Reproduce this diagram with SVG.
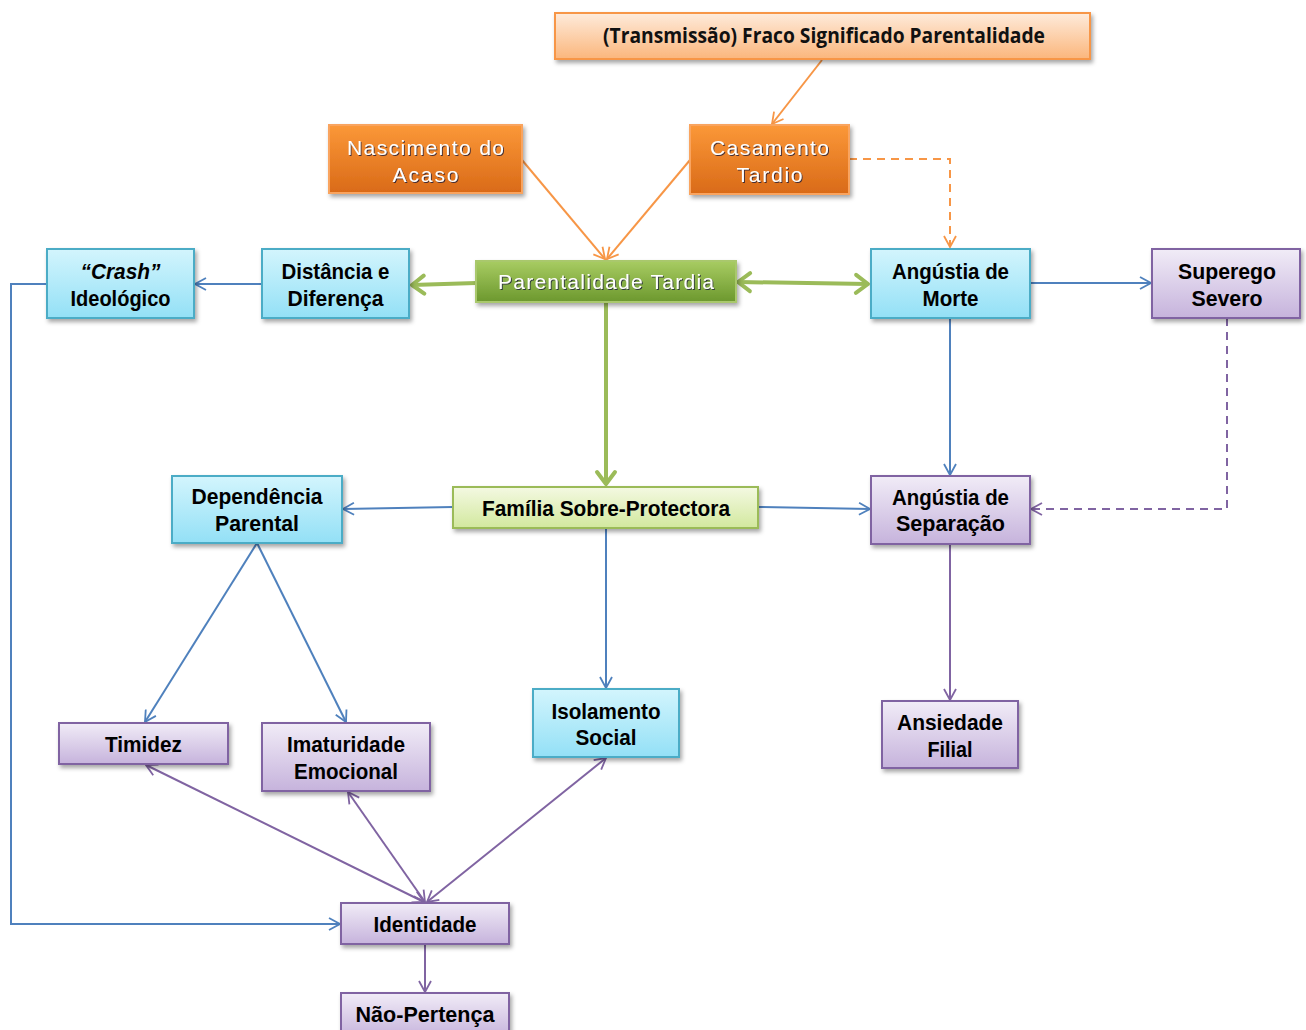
<svg xmlns="http://www.w3.org/2000/svg" width="1306" height="1030" viewBox="0 0 1306 1030">
<defs>
<linearGradient id="gBlue" x1="0" y1="0" x2="0" y2="1"><stop offset="0" stop-color="#d3f5fd"/><stop offset="1" stop-color="#93e0f6"/></linearGradient>
<linearGradient id="gPurple" x1="0" y1="0" x2="0" y2="1"><stop offset="0" stop-color="#f1ecf7"/><stop offset="1" stop-color="#c6b3dc"/></linearGradient>
<linearGradient id="gOrange" x1="0" y1="0" x2="0" y2="1"><stop offset="0" stop-color="#fb9838"/><stop offset="1" stop-color="#d96a18"/></linearGradient>
<linearGradient id="gPeach" x1="0" y1="0" x2="0" y2="1"><stop offset="0" stop-color="#feebdb"/><stop offset="1" stop-color="#fbb67c"/></linearGradient>
<linearGradient id="gGreen" x1="0" y1="0" x2="0" y2="1"><stop offset="0" stop-color="#a8cc62"/><stop offset="1" stop-color="#6c982e"/></linearGradient>
<linearGradient id="gLGreen" x1="0" y1="0" x2="0" y2="1"><stop offset="0" stop-color="#f4f9e2"/><stop offset="1" stop-color="#d2e89e"/></linearGradient>
<filter id="sh" x="-10%" y="-20%" width="130%" height="160%"><feDropShadow dx="2" dy="3" stdDeviation="2" flood-color="#000" flood-opacity="0.35"/></filter>
<filter id="tsh" x="-10%" y="-30%" width="120%" height="160%"><feDropShadow dx="1" dy="1" stdDeviation="0.6" flood-color="#1a1a3a" flood-opacity="0.8"/></filter>
<marker id="aBlue" viewBox="-1 -1 13 14" refX="11" refY="6" markerWidth="13" markerHeight="14" markerUnits="userSpaceOnUse" orient="auto-start-reverse"><path d="M0,0 L11,6 L0,12" fill="none" stroke="#4f81bd" stroke-width="1.8"/></marker>
<marker id="aPurple" viewBox="-1 -1 13 14" refX="11" refY="6" markerWidth="13" markerHeight="14" markerUnits="userSpaceOnUse" orient="auto-start-reverse"><path d="M0,0 L11,6 L0,12" fill="none" stroke="#8064a2" stroke-width="1.8"/></marker>
<marker id="aOrange" viewBox="-1 -1 13 14" refX="11" refY="6" markerWidth="13" markerHeight="14" markerUnits="userSpaceOnUse" orient="auto-start-reverse"><path d="M0,0 L11,6 L0,12" fill="none" stroke="#f79646" stroke-width="1.8"/></marker>
<marker id="aGreen" viewBox="-3 -3 18 24" refX="12" refY="9" markerWidth="18" markerHeight="24" markerUnits="userSpaceOnUse" orient="auto-start-reverse"><path d="M0,0 L12,9 L0,18" fill="none" stroke="#9bbb59" stroke-width="4" stroke-linecap="round" stroke-linejoin="round"/></marker>
</defs>
<style>
.box{filter:url(#sh);stroke-width:2}
.blue{fill:url(#gBlue);stroke:#4bacc6}
.purple{fill:url(#gPurple);stroke:#8064a2}
.orange{fill:url(#gOrange);stroke:#f9a45e}
.peach{fill:url(#gPeach);stroke:#f79646}
.green{fill:url(#gGreen);stroke:#a9c86c}
.lgreen{fill:url(#gLGreen);stroke:#9bbb59}
.t{font-family:"Liberation Sans",Arial,sans-serif;font-weight:bold;font-size:22px;fill:#000;text-anchor:middle}
.w{font-family:"Liberation Sans",Arial,sans-serif;font-size:21px;fill:#fff;text-anchor:middle;filter:url(#tsh)}
.c{font-family:"Open Sans","Noto Sans",sans-serif;font-weight:bold;font-size:21px;fill:#111;text-anchor:middle}
.lb{fill:none;stroke:#4f81bd;stroke-width:2}
.lp{fill:none;stroke:#8064a2;stroke-width:2}
.lo{fill:none;stroke:#f79646;stroke-width:2}
.lg{fill:none;stroke:#9bbb59;stroke-width:4}
.dash{stroke-dasharray:8 6}
</style>
<g id="connectors">
<line class="lo" x1="822" y1="60" x2="772" y2="124" marker-end="url(#aOrange)"/>
<line class="lo" x1="522" y1="160" x2="605" y2="259" marker-end="url(#aOrange)"/>
<line class="lo" x1="690" y1="160" x2="607" y2="259" marker-end="url(#aOrange)"/>
<path class="lo dash" d="M849,159 H950 V247" marker-end="url(#aOrange)"/>
<line class="lg" x1="476" y1="283" x2="412" y2="285" marker-end="url(#aGreen)"/>
<line class="lg" x1="738" y1="282" x2="868" y2="284" marker-start="url(#aGreen)" marker-end="url(#aGreen)"/>
<line class="lg" x1="606" y1="302" x2="606" y2="484" marker-end="url(#aGreen)"/>
<line class="lb" x1="262" y1="284" x2="195" y2="284" marker-end="url(#aBlue)"/>
<path class="lb" d="M47,284 H11 V924 H340" marker-end="url(#aBlue)"/>
<line class="lb" x1="1030" y1="283" x2="1151" y2="283" marker-end="url(#aBlue)"/>
<line class="lb" x1="950" y1="318" x2="950" y2="475" marker-end="url(#aBlue)"/>
<path class="lp dash" d="M1227,318 V509 H1031" marker-end="url(#aPurple)"/>
<line class="lb" x1="453" y1="507" x2="343" y2="509" marker-end="url(#aBlue)"/>
<line class="lb" x1="758" y1="507" x2="870" y2="509" marker-end="url(#aBlue)"/>
<line class="lb" x1="606" y1="528" x2="606" y2="688" marker-end="url(#aBlue)"/>
<line class="lb" x1="257" y1="543" x2="145" y2="722" marker-end="url(#aBlue)"/>
<line class="lb" x1="257" y1="543" x2="346" y2="722" marker-end="url(#aBlue)"/>
<line class="lp" x1="950" y1="544" x2="950" y2="700" marker-end="url(#aPurple)"/>
<line class="lp" x1="146" y1="765" x2="424" y2="902" marker-start="url(#aPurple)" marker-end="url(#aPurple)"/>
<line class="lp" x1="348" y1="792" x2="425" y2="902" marker-start="url(#aPurple)" marker-end="url(#aPurple)"/>
<line class="lp" x1="606" y1="758" x2="427" y2="902" marker-start="url(#aPurple)" marker-end="url(#aPurple)"/>
<line class="lp" x1="425" y1="944" x2="425" y2="992" marker-end="url(#aPurple)"/>
</g>
<g id="n-transmissao"><rect class="box peach" x="555" y="13" width="535" height="46"/><text class="c" x="824" y="43" textLength="442" lengthAdjust="spacingAndGlyphs">(Transmissão) Fraco Significado Parentalidade</text></g>
<g id="n-nascimento"><rect class="box orange" x="329" y="125" width="193" height="68"/><text class="w" x="425.5" y="155" textLength="157">Nascimento do</text><text class="w" x="425.5" y="182" textLength="66">Acaso</text></g>
<g id="n-casamento"><rect class="box orange" x="690" y="125" width="159" height="69"/><text class="w" x="769.5" y="155" textLength="119">Casamento</text><text class="w" x="769.5" y="182" textLength="66">Tardio</text></g>
<g id="n-parentalidade"><rect class="box green" x="476" y="261" width="260" height="41"/><text class="w" x="606" y="289" textLength="216">Parentalidade Tardia</text></g>
<g id="n-crash"><rect class="box blue" x="47" y="249" width="147" height="69"/><text class="t" x="120.5" y="279" font-style="italic" textLength="80" lengthAdjust="spacingAndGlyphs">“Crash”</text><text class="t" x="120.5" y="306" textLength="100" lengthAdjust="spacingAndGlyphs">Ideológico</text></g>
<g id="n-distancia"><rect class="box blue" x="262" y="249" width="147" height="69"/><text class="t" x="335.5" y="279" textLength="108" lengthAdjust="spacingAndGlyphs">Distância e</text><text class="t" x="335.5" y="306" textLength="96" lengthAdjust="spacingAndGlyphs">Diferença</text></g>
<g id="n-morte"><rect class="box blue" x="871" y="249" width="159" height="69"/><text class="t" x="950.5" y="279" textLength="117" lengthAdjust="spacingAndGlyphs">Angústia de</text><text class="t" x="950.5" y="306" textLength="56" lengthAdjust="spacingAndGlyphs">Morte</text></g>
<g id="n-superego"><rect class="box purple" x="1152" y="249" width="148" height="69"/><text class="t" x="1227" y="279" textLength="98" lengthAdjust="spacingAndGlyphs">Superego</text><text class="t" x="1227" y="306" textLength="71" lengthAdjust="spacingAndGlyphs">Severo</text></g>
<g id="n-familia"><rect class="box lgreen" x="453" y="487" width="305" height="41"/><text class="t" x="606" y="516" textLength="248" lengthAdjust="spacingAndGlyphs">Família Sobre-Protectora</text></g>
<g id="n-dependencia"><rect class="box blue" x="172" y="476" width="170" height="67"/><text class="t" x="257" y="504" textLength="131" lengthAdjust="spacingAndGlyphs">Dependência</text><text class="t" x="257" y="531" textLength="84" lengthAdjust="spacingAndGlyphs">Parental</text></g>
<g id="n-separacao"><rect class="box purple" x="871" y="476" width="159" height="68"/><text class="t" x="950.5" y="505" textLength="117" lengthAdjust="spacingAndGlyphs">Angústia de</text><text class="t" x="950.5" y="531" textLength="109" lengthAdjust="spacingAndGlyphs">Separação</text></g>
<g id="n-timidez"><rect class="box purple" x="59" y="723" width="169" height="41"/><text class="t" x="143.5" y="752" textLength="77" lengthAdjust="spacingAndGlyphs">Timidez</text></g>
<g id="n-imaturidade"><rect class="box purple" x="262" y="723" width="168" height="68"/><text class="t" x="346" y="752" textLength="118" lengthAdjust="spacingAndGlyphs">Imaturidade</text><text class="t" x="346" y="779" textLength="104" lengthAdjust="spacingAndGlyphs">Emocional</text></g>
<g id="n-isolamento"><rect class="box blue" x="533" y="689" width="146" height="68"/><text class="t" x="606" y="719" textLength="109" lengthAdjust="spacingAndGlyphs">Isolamento</text><text class="t" x="606" y="745" textLength="61" lengthAdjust="spacingAndGlyphs">Social</text></g>
<g id="n-ansiedade"><rect class="box purple" x="882" y="701" width="136" height="67"/><text class="t" x="950" y="730" textLength="106" lengthAdjust="spacingAndGlyphs">Ansiedade</text><text class="t" x="950" y="757" textLength="45" lengthAdjust="spacingAndGlyphs">Filial</text></g>
<g id="n-identidade"><rect class="box purple" x="341" y="903" width="168" height="41"/><text class="t" x="425" y="932" textLength="103" lengthAdjust="spacingAndGlyphs">Identidade</text></g>
<g id="n-naopertenca"><rect class="box purple" x="341" y="993" width="168" height="45"/><text class="t" x="425" y="1022" textLength="139" lengthAdjust="spacingAndGlyphs">Não-Pertença</text></g>
</svg>
